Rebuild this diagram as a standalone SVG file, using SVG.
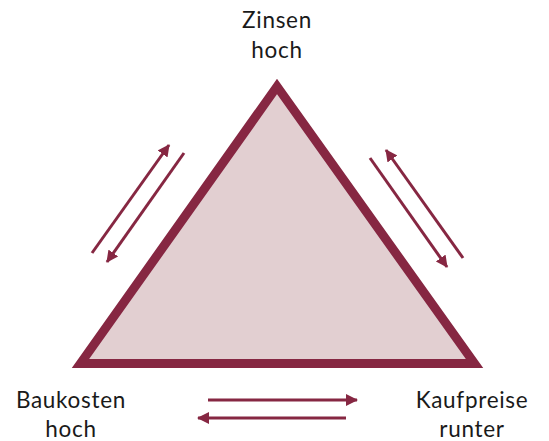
<svg xmlns="http://www.w3.org/2000/svg" width="549" height="441" viewBox="0 0 549 441">
<defs>
<style>
.lbl{font-family:Lato,"Noto Sans","Liberation Sans",sans-serif;font-size:22.5px;letter-spacing:0.7px;fill:#1a1a1a;text-anchor:middle}
.arr{stroke:#862742;stroke-width:3;fill:none}
</style>
<marker id="ah" viewBox="0 0 12 12" refX="11" refY="6" markerWidth="12" markerHeight="12" markerUnits="userSpaceOnUse" orient="auto">
<path d="M0,0 L12,6 L0,12 Z" fill="#862742"/>
</marker>
</defs>
<g id="triangle">
<polygon points="277,86.5 80.5,363.5 474.5,363.5" fill="#e2cfd1" stroke="#862742" stroke-width="9" stroke-linejoin="miter"/>
</g>
<g id="zinsen"><text class="lbl" x="277" y="28">Zinsen</text><text class="lbl" x="277" y="58">hoch</text></g>
<g id="baukosten"><text class="lbl" x="71" y="408">Baukosten</text><text class="lbl" x="71" y="437">hoch</text></g>
<g id="kaufpreise"><text class="lbl" x="472" y="408">Kaufpreise</text><text class="lbl" x="472" y="437">runter</text></g>
<g id="connectors">
<line class="arr" x1="92" y1="253" x2="169" y2="145" marker-end="url(#ah)"/>
<line class="arr" x1="184" y1="153" x2="107" y2="262" marker-end="url(#ah)"/>
<line class="arr" x1="370" y1="158" x2="447" y2="267" marker-end="url(#ah)"/>
<line class="arr" x1="463" y1="258" x2="386" y2="150" marker-end="url(#ah)"/>
<line class="arr" x1="208" y1="400" x2="357" y2="400" marker-end="url(#ah)"/>
<line class="arr" x1="346" y1="418" x2="198" y2="418" marker-end="url(#ah)"/>
</g>
</svg>
